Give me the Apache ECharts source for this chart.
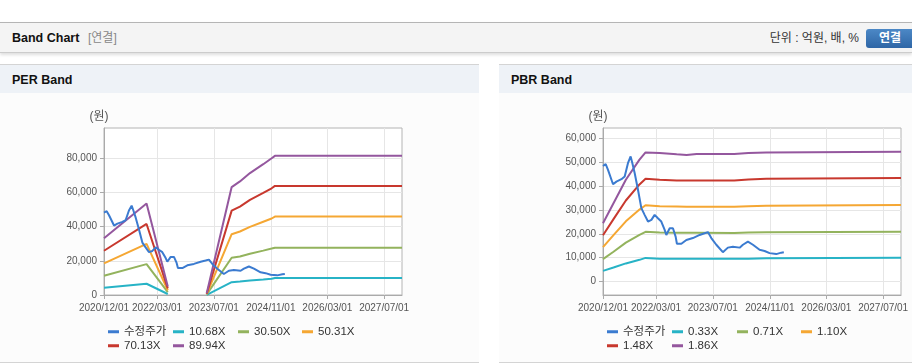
<!DOCTYPE html>
<html><head><meta charset="utf-8">
<script src="https://cdn.jsdelivr.net/npm/echarts@6/dist/echarts.min.js"></script>
<style>
html,body{margin:0;padding:0}
body{width:912px;height:364px;overflow:hidden;background:#fff;position:relative;font-family:"Liberation Sans","Noto Sans CJK KR",sans-serif}
#hdr{position:absolute;left:0;top:22px;width:912px;height:31px;box-sizing:border-box;background:#f4f4f4;border-top:1px solid #b5b5b5;border-bottom:1px solid #cccccc;box-shadow:0 2px 3px rgba(0,0,0,0.13)}
.t{position:absolute;white-space:nowrap;line-height:14px}
.panel{position:absolute;top:64px;height:299px;box-sizing:border-box;border-top:1px solid #d4d4d4;border-bottom:1px solid #d4d4d4;background:#fcfcfc}
.ph{position:absolute;left:0;top:0;right:0;height:28px;background:#eef2f7}
.chart{position:absolute;top:93px;height:269px}
#btn{position:absolute;left:866px;top:29px;width:48px;height:19px;border-radius:3px;background:linear-gradient(#4c88c6,#2e66a6);color:#fff;font-weight:bold;font-size:12px;line-height:19px;text-align:center}
</style>
</head><body>
<div id="hdr">
  <span class="t" style="left:12px;top:8px;font-size:12.5px;font-weight:bold;color:#111">Band Chart</span>
  <span class="t" style="left:88px;top:8px;font-size:12px;color:#888">[연결]</span>
  <span class="t" style="right:53px;top:8px;font-size:12px;color:#333">단위 : 억원, 배, %</span>
</div>
<div id="btn">연결</div>
<div class="panel" style="left:0;width:479px"><div class="ph"><span class="t" style="left:12px;top:8px;font-size:12.5px;font-weight:bold;color:#111">PER Band</span></div></div>
<div class="panel" style="left:499px;width:413px"><div class="ph"><span class="t" style="left:12px;top:8px;font-size:12.5px;font-weight:bold;color:#111">PBR Band</span></div></div>
<div id="per" class="chart" style="left:0;width:479px"></div>
<div id="pbr" class="chart" style="left:499px;width:413px"></div>
<script>
// ---------- data ----------
const xMin = '2020-12-01';
const xMax = '2027-12-01';
const xTickDates = ['2020-12-01','2022-03-01','2023-07-01','2024-11-01','2026-03-01','2027-07-01'];

const priceName = '수정주가';
const priceData = [
 ['2020-12-01',48300],['2020-12-24',49100],['2021-01-13',46700],['2021-02-25',40700],
 ['2021-03-26',41800],['2021-05-08',42800],['2021-06-05',43900],['2021-07-03',49500],
 ['2021-07-26',52300],['2021-08-10',49500],['2021-08-30',45300],['2021-09-27',38400],
 ['2021-10-26',30700],['2021-11-23',27900],['2021-12-22',25100],['2022-01-20',25800],
 ['2022-02-17',27900],['2022-03-17',26500],['2022-04-15',25100],['2022-05-14',21600],
 ['2022-05-28',19500],['2022-06-26',22300],['2022-07-24',22300],['2022-08-16',18800],
 ['2022-08-27',15800],['2022-10-04',15800],['2022-11-16',17400],['2023-01-11',18200],
 ['2023-03-10',19500],['2023-04-21',20200],['2023-05-20',20700],['2023-06-18',18200],
 ['2023-07-31',15400],['2023-09-25',12300],['2023-11-07',14200],['2023-12-20',14600],
 ['2024-02-16',14200],['2024-03-15',15400],['2024-04-27',16700],['2024-06-09',15400],
 ['2024-08-05',13300],['2024-09-17',12800],['2024-10-30',11900],['2024-12-26',11500],
 ['2025-02-07',12100],['2025-03-01',12300]
];

// PER band
const perNames = ['10.68X','30.50X','50.31X','70.13X','89.94X'];
const perDates = ['2020-12-01','2021-12-01','2022-06-01','2022-12-01','2023-05-01','2023-12-01','2024-02-10','2024-05-06','2024-08-28','2024-11-08','2024-12-06','2027-12-01'];
const per1068 = [4200, 6600, 600, null, 120, 7500, 7900, 8500, 9100, 9500, 10000, 10000];
const per3050 = [11300,18100,1700, null, 340, 21800,22500,24200,26000,27200,27700,27700];
const per5031 = [18500,29900,2800, null, 560, 35600,37200,39900,42900,44800,45900,45900];
const per7013 = [25900,41600,3900, null, 780, 49400,51800,55700,59800,62500,63900,63900];
const per8994 = [33250,53600,5000, null, 1000,63200,66500,71400,76600,80100,81500,81500];
const perYMin = 0, perYMax = 97800;
const perYTicks = [0,20000,40000,60000,80000];

// PBR band
const pbrNames = ['0.33X','0.71X','1.10X','1.48X','1.86X'];
const pbrDates = ['2020-12-01','2021-03-01','2021-06-15','2021-10-10','2021-12-01','2022-04-01','2022-08-25','2022-11-18','2023-02-12','2024-01-01','2024-01-05','2024-05-01','2024-05-05','2024-10-01','2024-10-05','2027-12-01'];
const pbr033 = [4500, 5900, 7600, 9100, 9900, 9600, 9550, 9550, 9550, 9550, 9550, 9550, 9750, 9750, 9950, 9950];
const pbr071 = [9400, 12500,16300,19500,20800,20500,20450,20400,20400,20350,20500,20500,20650,20650,20800,20800];
const pbr110 = [14400,19400,25200,30100,31900,31450,31350,31300,31300,31300,31500,31500,31750,31750,32050,32050];
const pbr148 = [19400,26100,33900,40600,42950,42550,42300,42300,42300,42300,42650,42650,42950,42950,43300,43300];
const pbr186 = [24420,32740,42590,50960,53980,53700,53200,52950,53300,53300,53720,53720,53970,53970,54270,54270];
const pbrYMin = -5600, pbrYMax = 64200;
const pbrYTicks = [0,10000,20000,30000,40000,50000,60000];

// ---------- styling ----------
const priceColor = '#3b7bd0';
const bandColors = ['#27b3c6','#93b35d','#f5a733','#c8382e','#94579e'];
const FONT = '"Liberation Sans","Noto Sans CJK KR",sans-serif';

function ts(s){ const p = s.split('-').map(Number); return Date.UTC(p[0], p[1]-1, p[2]); }
function fmtDate(v){
  const d = new Date(v);
  const p = n => String(n).padStart(2,'0');
  return d.getUTCFullYear() + '/' + p(d.getUTCMonth()+1) + '/' + p(d.getUTCDate());
}
function pair(dates, vals){ return dates.map((d,i)=>[ts(d), vals[i]]); }
const xTickTs = xTickDates.map(ts);

function build(id, names, dates, bands, yMin, yMax, yTicks){
  const chart = echarts.init(document.getElementById(id), null, {renderer:'canvas'});
  const series = names.map((n,i)=>({
    name:n, type:'line', data:pair(dates, bands[i]), symbol:'none', showSymbol:false,
    connectNulls:false, lineStyle:{width:2,color:bandColors[i]}, itemStyle:{color:bandColors[i]},
    emphasis:{disabled:true}, z:2
  }));
  series.push({name:priceName, type:'line', data:priceData.map(d=>[ts(d[0]), d[1]]), symbol:'none', showSymbol:false,
    lineStyle:{width:2,color:priceColor}, itemStyle:{color:priceColor}, emphasis:{disabled:true}, z:3});
  const allNames = [priceName].concat(names);
  const pos = [[108,233],[173,233],[238,233],[302,233],[108,247],[173,247]];
  const legends = allNames.map((n,i)=>({
    data:[n], left:pos[i][0], top:pos[i][1], padding:0, icon:'rect', itemWidth:11, itemHeight:3,
    selectedMode:false, textStyle:{fontSize:11.5,color:'#333',fontFamily:FONT}
  }));
  chart.setOption({
    animation:false,
    legend:legends,
    grid:{left:104, top:35, width:298, height:167, show:true, borderColor:'#b4b4b4', borderWidth:1, backgroundColor:'#fff', containLabel:false},
    xAxis:{type:'value', min:ts(xMin), max:ts(xMax), scale:true,
      axisLine:{show:true, onZero:false, lineStyle:{color:'#aaaaaa'}},
      axisTick:{show:true, customValues:xTickTs, length:4, lineStyle:{color:'#aaaaaa'}},
      axisLabel:{customValues:xTickTs, formatter:fmtDate, fontSize:10, color:'#555', margin:8, fontFamily:FONT},
      splitLine:{show:true, lineStyle:{color:'#e6e6e6'}}},
    yAxis:{type:'value', min:yMin, max:yMax, name:'(원)', nameLocation:'end', nameGap:5,
      nameTextStyle:{fontSize:12, color:'#555', padding:[0,10,0,0], fontFamily:FONT},
      axisLine:{show:true, onZero:false, lineStyle:{color:'#aaaaaa'}},
      axisTick:{show:true, customValues:yTicks, length:4, lineStyle:{color:'#aaaaaa'}},
      axisLabel:{customValues:yTicks, fontSize:10, color:'#555', margin:7, fontFamily:FONT,
        formatter:v=>Number(v).toLocaleString('en-US')},
      splitLine:{show:true, lineStyle:{color:'#e6e6e6'}}},
    series:series
  });
}
build('per', perNames, perDates, [per1068,per3050,per5031,per7013,per8994], perYMin, perYMax, perYTicks);
build('pbr', pbrNames, pbrDates, [pbr033,pbr071,pbr110,pbr148,pbr186], pbrYMin, pbrYMax, pbrYTicks);
</script>
</body></html>
